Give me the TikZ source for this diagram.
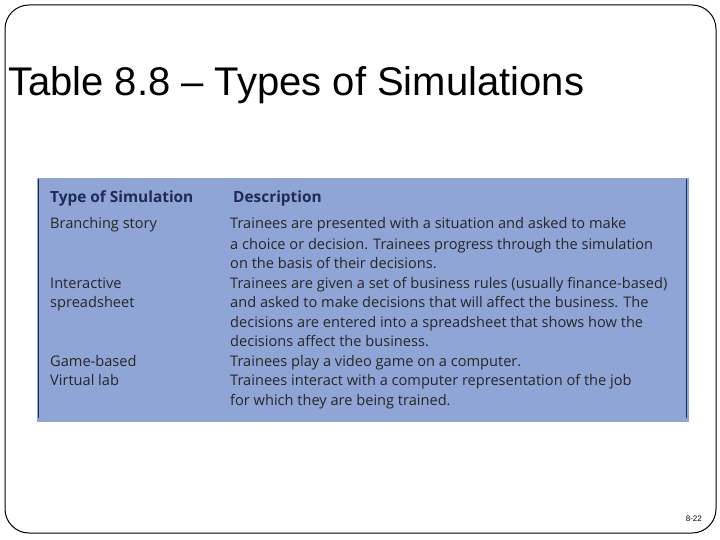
\documentclass[tikz,border=0pt]{standalone}
\usepackage{fontspec}
\setmainfont{Liberation Sans}
\newfontfamily\tabfont{Open Sans}
\definecolor{tblue}{HTML}{8FA5D5}
\definecolor{tline}{HTML}{1F2A55}
\begin{document}
\begin{tikzpicture}[x=1pt,y=-1pt,
  cell/.style={anchor=base west,inner sep=0pt,font=\tabfont\fontsize{14.6}{17}\selectfont,text=black!85},
  head/.style={cell,font=\tabfont\bfseries\fontsize{15.4}{17}\selectfont,text=tline}]
\useasboundingbox (0,0) rectangle (720,540);
\draw[line width=1pt,rounded corners=24pt] (5,5) rectangle (716,533);
\node[anchor=base west,inner sep=0pt,font=\fontsize{40}{46}\selectfont] (title) at (8,96) {Table 8.8 – Types of Simulations};
\fill[tblue] (37,178) rectangle (689,422);
\draw[tline,line width=1pt] (38.5,179) -- (38.5,418);
\draw[tline,line width=1pt] (686,179) -- (686,418);
\node[head] (h1) at (50,203) {Type of Simulation};
\node[head] (h2) at (233,203) {Description};
\node[cell] (c1) at (50,229) {Branching story};
\node[cell] (d1) at (230,229) {Trainees are presented with a situation and asked to make};
\node[cell] (d2) at (230,249) {a choice or decision. Trainees progress through the simulation};
\node[cell] (d3) at (230,268) {on the basis of their decisions.};
\node[cell] (c2) at (50,288) {Interactive};
\node[cell] (d4) at (230,288) {Trainees are given a set of business rules (usually finance-based)};
\node[cell] (c3) at (50,307) {spreadsheet};
\node[cell] (d5) at (230,307) {and asked to make decisions that will affect the business. The};
\node[cell] (d6) at (230,327) {decisions are entered into a spreadsheet that shows how the};
\node[cell] (d7) at (230,346) {decisions affect the business.};
\node[cell] (c4) at (50,366) {Game-based};
\node[cell] (d8) at (230,366) {Trainees play a video game on a computer.};
\node[cell] (c5) at (50,385) {Virtual lab};
\node[cell] (d9) at (230,385) {Trainees interact with a computer representation of the job};
\node[cell] (d10) at (230,405) {for which they are being trained.};
\node[anchor=base east,inner sep=0pt,font=\fontsize{8}{9}\selectfont] (pg) at (702,521) {8-22};
\end{tikzpicture}
\end{document}
